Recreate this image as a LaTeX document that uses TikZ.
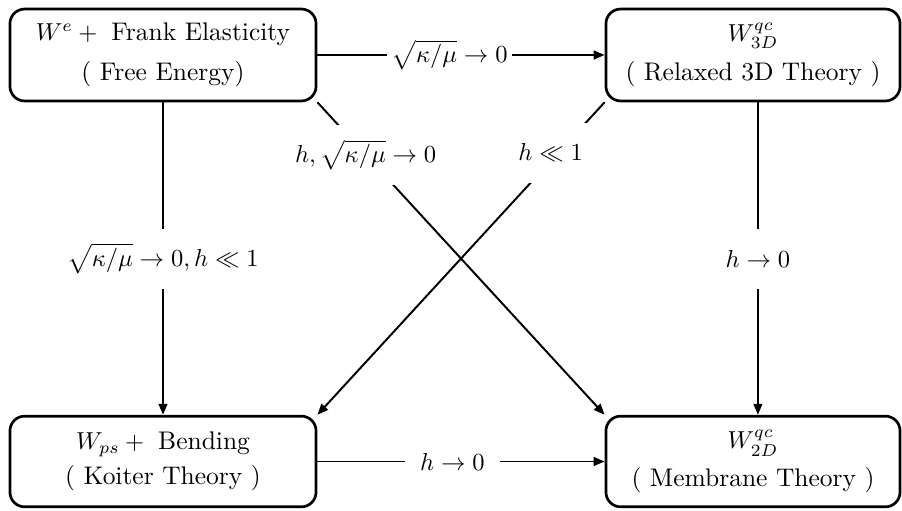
\documentclass[tikz,border=0pt]{standalone}
\usetikzlibrary{arrows.meta}
\begin{document}
\begin{tikzpicture}[x=0.408pt,y=-0.408pt,
  font=\fontsize{10.4}{12.5}\selectfont,
  box/.style={draw, line width=1.1pt, rounded corners=6pt, align=center, inner sep=0pt},
  arr/.style={line width=0.8pt, -{Triangle[length=4.5pt,width=3.6pt]}},
  lab/.style={fill=white, inner xsep=2pt, inner ysep=0pt, minimum height=24.5pt}]
\useasboundingbox (0,0) rectangle (902,511);
\node[box, minimum width=124.9pt, minimum height=37.5pt] (TL) at (163,55)
  {$W^e + {}$ Frank Elasticity\\[4pt]( Free Energy)};
\node[box, minimum width=120pt, minimum height=37.5pt] (TR) at (753,55)
  {$W^{qc}_{3D}$\\[3.5pt]( Relaxed 3D Theory )};
\node[box, minimum width=124.9pt, minimum height=37pt] (BL) at (163,461.5)
  {$W_{ps} + {}$ Bending\\[2pt]( Koiter Theory )};
\node[box, minimum width=120pt, minimum height=37pt] (BR) at (753,461.5)
  {$W^{qc}_{2D}$\\[3pt]( Membrane Theory )};
\draw[arr] (TL.east) -- node[lab, pos=0.46] {$\sqrt{\kappa/\mu}\to 0$} (TR.west);
\draw[arr] (TL.south) -- node[lab, pos=0.5] {$\sqrt{\kappa/\mu}\to 0, h\ll 1$} (BL.north);
\draw[arr] ([xshift=2pt]TR.south) -- node[lab, pos=0.5] {$h\to 0$} ([xshift=2pt]BR.north);
\draw[arr] (BL.east) -- node[lab, pos=0.47, minimum width=39pt] {$h\to 0$} (BR.west);
\draw[arr] (TL.south east) -- node[lab, pos=0.168] {$h, \sqrt{\kappa/\mu}\to 0$} (BR.north west);
\draw[arr] (TR.south west) -- node[lab, pos=0.162, xshift=-3pt] {$h\ll 1$} (BL.north east);
\end{tikzpicture}
\end{document}
